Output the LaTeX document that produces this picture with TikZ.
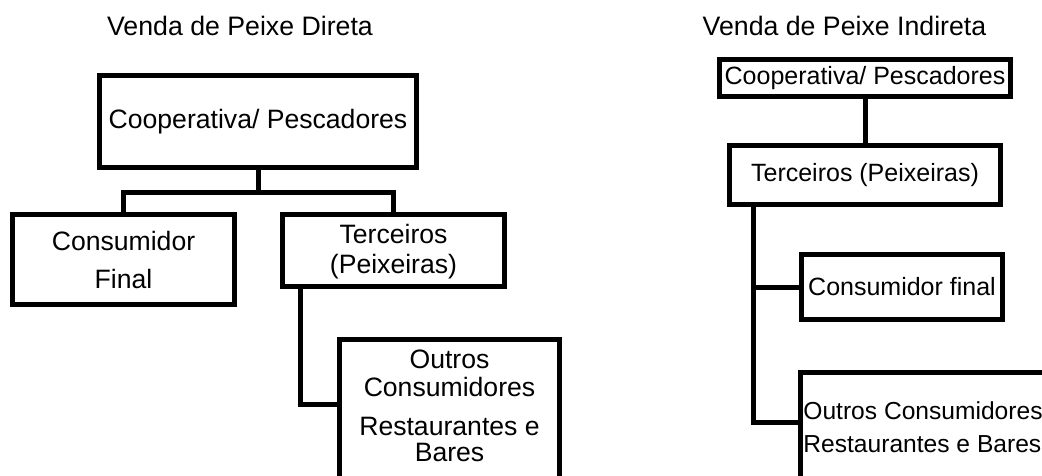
\documentclass[tikz,border=0pt]{standalone}
\usepackage{fontspec}
\setmainfont{Liberation Sans}
\begin{document}
\begin{tikzpicture}[x=1pt, y=-1pt, line width=5pt,
  box/.style={draw, rectangle, line width=5pt, inner sep=2pt, align=center, font=\fontsize{26.6}{30}\selectfont},
  smallbox/.style={box, inner sep=1pt, font=\fontsize{25}{30}\selectfont},
  title/.style={font=\fontsize{26.7}{30}\selectfont}]
\useasboundingbox (0,0) rectangle (1042,475);
\clip (0,0) rectangle (1042,475);
\node[title] (titleD) at (240,25.5) {Venda de Peixe Direta};
\node[box, minimum width=317pt, minimum height=92pt] (coopD) at (258,121.5) {Cooperativa/ Pescadores};
\node[box, minimum width=222pt, minimum height=90pt] (consD) at (123.5,259.5) {Consumidor\\[8pt]Final};
\node[box, minimum width=222pt, minimum height=72pt] (tercD) at (393.5,250.5) {\rule{0pt}{22pt}Terceiros\\(Peixeiras)};
\node[box, minimum width=220pt, minimum height=148pt, font=\fontsize{26.6}{28}\selectfont] (outD) at (449.5,413.5)
  {Outros\\Consumidores\\[11pt]Restaurantes e\\[-2pt]Bares\rule[-15pt]{0pt}{15pt}};
\draw (coopD.south) -- ++(0,22.5) coordinate (forkD);
\draw (forkD) -| (consD.north);
\draw (forkD) -| (tercD.north);
\draw ([xshift=20.5pt]tercD.south west) |- ([yshift=-67.5pt]outD.north west);
\node[title] (titleI) at (844.5,25.5) {Venda de Peixe Indireta};
\node[smallbox, minimum width=291pt, minimum height=37pt] (coopI) at (865,78) {Cooperativa/ Pescadores};
\node[smallbox, minimum width=271pt, minimum height=59pt] (tercI) at (865,175) {Terceiros (Peixeiras)};
\node[smallbox, minimum width=201pt, minimum height=65pt] (consI) at (902,287) {Consumidor final};
\node[smallbox, minimum width=246pt, minimum height=110pt, inner xsep=1.5pt, align=left, anchor=north west,
  font=\fontsize{24.6}{30}\selectfont] (outI) at (797.5,369.5)
  {Outros Consumidores\\[3pt]Restaurantes e Bares};
\draw (coopI.south) -- (tercI.north);
\draw ([xshift=26.5pt]tercI.south west) coordinate (trunkI) |- ([yshift=-52.5pt]outI.north west);
\draw (trunkI |- consI.west) -- (consI.west);
\end{tikzpicture}
\end{document}
